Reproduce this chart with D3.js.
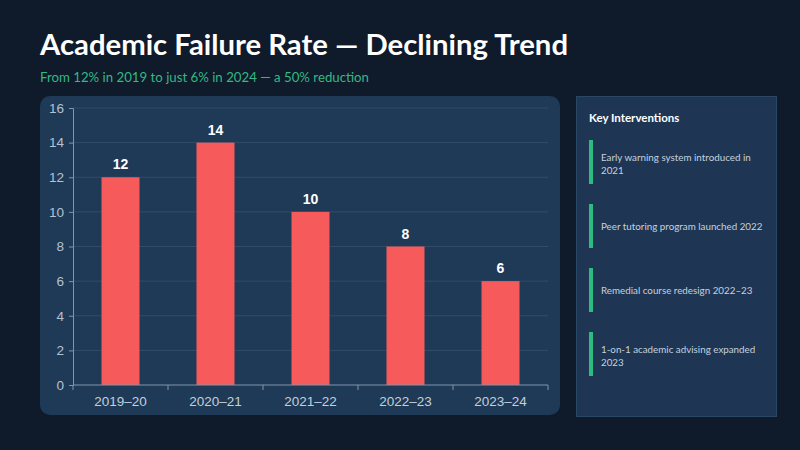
<!DOCTYPE html>
<html><head><meta charset="utf-8">
<script src="https://cdn.jsdelivr.net/npm/d3@7/dist/d3.min.js"></script>
<style>
html,body{margin:0;padding:0;background:#0f1a2b;}
svg{display:block;}
</style></head>
<body>
<svg id="c" width="800" height="450"></svg>
<script>
const categories = ["2019–20","2020–21","2021–22","2022–23","2023–24"];
const failureRate = [12,14,10,8,6];
const yTicks = [0,2,4,6,8,10,12,14,16];
const interventions = [
  ["Early warning system introduced in","2021"],
  ["Peer tutoring program launched 2022"],
  ["Remedial course redesign 2022–23"],
  ["1-on-1 academic advising expanded","2023"]
];
const titleText = "Academic Failure Rate — Declining Trend";
const subtitleText = "From 12% in 2019 to just 6% in 2024 — a 50% reduction";

const svg = d3.select("#c");
svg.append("rect").attr("width",800).attr("height",450).attr("fill","#0f1a2b");

svg.append("text").attr("x",40).attr("y",55).text(titleText)
  .attr("font-family","Lato, 'Open Sans', sans-serif").attr("font-weight",700)
  .attr("font-size",28).attr("fill","#ffffff").attr("textLength",528).attr("lengthAdjust","spacingAndGlyphs");
svg.append("text").attr("x",40).attr("y",82).text(subtitleText)
  .attr("font-family","Lato, 'Open Sans', sans-serif")
  .attr("font-size",13.5).attr("fill","#34b884").attr("textLength",329).attr("lengthAdjust","spacingAndGlyphs");

// chart panel
svg.append("rect").attr("x",40).attr("y",96).attr("width",520).attr("height",319)
  .attr("rx",10).attr("fill","#1f3a57");

const m = {l:73, r:548, t:108, b:385};
const x = d3.scaleBand().domain(categories).range([m.l,m.r]).paddingInner(0.6).paddingOuter(0.3);
const y = d3.scaleLinear().domain([0,16]).range([m.b,m.t]);

const g = svg.append("g");
g.selectAll(".grid").data(yTicks.filter(d=>d>0)).join("line")
  .attr("x1",m.l).attr("x2",m.r).attr("y1",d=>y(d)).attr("y2",d=>y(d))
  .attr("stroke","#ffffff").attr("stroke-opacity",0.09).attr("stroke-width",1);

g.selectAll(".bar").data(failureRate).join("rect")
  .attr("x",(d,i)=>x(categories[i])).attr("width",x.bandwidth())
  .attr("y",d=>y(d)).attr("height",d=>y(0)-y(d))
  .attr("fill","#f65a5a");
g.selectAll(".lbl").data(failureRate).join("text")
  .attr("x",(d,i)=>x(categories[i])+x.bandwidth()/2).attr("y",d=>y(d)-8)
  .attr("text-anchor","middle").text(d=>d)
  .attr("font-family","'Liberation Sans', Arial, sans-serif").attr("font-weight",700)
  .attr("font-size",14).attr("fill","#ffffff");

const yAxis = d3.axisLeft(y).tickValues(yTicks).tickSize(4).tickPadding(5);
const ya = svg.append("g").attr("transform",`translate(${m.l},0)`).call(yAxis);
ya.select(".domain").attr("stroke","#8194ab");
ya.selectAll(".tick line").attr("stroke","#8194ab");
ya.selectAll(".tick text").attr("fill","#b4c2d2").attr("font-size",13.5)
  .attr("font-family","'Liberation Sans', Arial, sans-serif");

const xLin = d3.scaleLinear().domain([0,categories.length]).range([m.l,m.r]);
const xa = svg.append("g").attr("transform",`translate(0,${m.b})`);
xa.append("line").attr("x1",m.l).attr("x2",m.r).attr("stroke","#8194ab");
xa.selectAll(".xt").data(d3.range(categories.length+1)).join("line")
  .attr("x1",d=>xLin(d)).attr("x2",d=>xLin(d)).attr("y1",0).attr("y2",5).attr("stroke","#8194ab");
xa.selectAll(".xl").data(categories).join("text")
  .attr("x",d=>x(d)+x.bandwidth()/2).attr("y",21).attr("text-anchor","middle").text(d=>d)
  .attr("fill","#c3cfdc").attr("font-size",13.5)
  .attr("font-family","'Liberation Sans', Arial, sans-serif");

svg.append("rect").attr("x",576.5).attr("y",96.5).attr("width",200).attr("height",320)
  .attr("fill","#1e3653").attr("stroke","#2b4766").attr("stroke-width",1);
svg.append("text").attr("x",589).attr("y",122).text("Key Interventions")
  .attr("font-family","Lato, 'Open Sans', sans-serif").attr("font-weight",700)
  .attr("font-size",11.5).attr("fill","#ffffff");

const itemY = [140,204,268,332];
const items = svg.selectAll(".item").data(interventions).join("g")
  .attr("transform",(d,i)=>`translate(0,${itemY[i]})`);
items.append("rect").attr("x",589).attr("y",0).attr("width",4).attr("height",44).attr("fill","#2dbb7f");
items.each(function(lines){
  const gg = d3.select(this);
  const n = lines.length;
  const start = n===1 ? 26 : 20.5;
  lines.forEach((t,j)=>{
    gg.append("text").attr("x",601).attr("y",start + j*13).text(t)
      .attr("font-family","Lato, 'Open Sans', sans-serif")
      .attr("font-size",9.8).attr("fill","#c5d1df");
  });
});
</script>
</body></html>
